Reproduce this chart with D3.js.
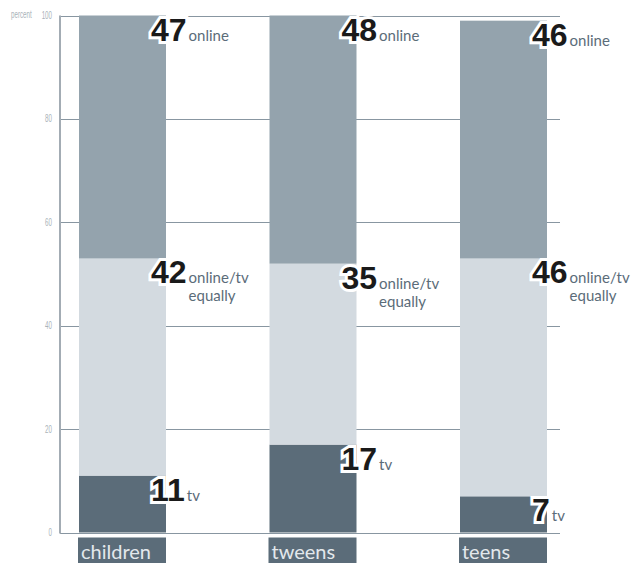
<!DOCTYPE html>
<html>
<head>
<meta charset="utf-8">
<script src="https://cdn.jsdelivr.net/npm/d3@7"></script>
<style>
  html, body { margin: 0; padding: 0; background: #fff; }
  svg { display: block; }
</style>
</head>
<body>
<div id="chart"></div>
<script>
// ---- data ----
const categories = ["children", "tweens", "teens"];
const seriesKeys = ["tv", "equal", "online"];
const tvValues = [11, 17, 7];
const equalValues = [42, 35, 46];
const onlineValues = [47, 48, 46];
const seriesLabels = { tv: ["tv"], equal: ["online/tv", "equally"], online: ["online"] };
const yTicks = [0, 20, 40, 60, 80, 100];
const yAxisTitle = "percent";

const colors = { tv: "#5b6c79", equal: "#d3dae0", online: "#94a3ad" };

const W = 639, H = 563;
const svg = d3.select("#chart").append("svg").attr("width", W).attr("height", H);

const rows = categories.map((c, i) => ({
  category: c, tv: tvValues[i], equal: equalValues[i], online: onlineValues[i]
}));
const stacked = d3.stack().keys(seriesKeys)(rows);

const y = d3.scaleLinear().domain([0, 100]).range([532.5, 15.5]);
const x = d3.scaleBand().domain(categories).range([79, 547]).paddingInner(0.5433).paddingOuter(0);

const axisX = 60, gridEnd = 560;

// gridlines
svg.append("g").selectAll("line").data(yTicks).join("line")
  .attr("x1", axisX).attr("x2", gridEnd)
  .attr("y1", d => Math.round(y(d)) + 0.5).attr("y2", d => Math.round(y(d)) + 0.5)
  .attr("stroke", "#8896a1").attr("stroke-width", 1);

// bars
svg.append("g").selectAll("g").data(stacked).join("g")
  .attr("fill", d => colors[d.key])
  .selectAll("rect").data(d => d).join("rect")
  .attr("x", d => x(d.data.category))
  .attr("width", x.bandwidth())
  .attr("y", d => y(d[1]))
  .attr("height", d => y(d[0]) - y(d[1]));

// y axis line
svg.append("line")
  .attr("x1", axisX).attr("x2", axisX)
  .attr("y1", y(100)).attr("y2", y(0) + 1)
  .attr("stroke", "#a3acb4").attr("stroke-width", 2);

// tick labels (condensed by horizontal scaling)
const tickFont = "'Liberation Sans', Arial, sans-serif";
svg.append("g").selectAll("text").data(yTicks).join("text")
  .attr("transform", d => `translate(52,${y(d)}) scale(0.62,1)`)
  .attr("dy", "0.35em")
  .attr("text-anchor", "end")
  .attr("font-family", tickFont).attr("font-size", 10)
  .attr("fill", "#a9b2b9")
  .text(d => d);
svg.append("text")
  .attr("transform", `translate(11,${y(100) - 1}) scale(0.62,1)`)
  .attr("dy", "0.35em")
  .attr("font-family", tickFont).attr("font-size", 10)
  .attr("fill", "#a9b2b9")
  .text(yAxisTitle);

// category label boxes
const cat = svg.append("g").selectAll("g").data(categories).join("g");
cat.append("rect")
  .attr("x", d => x(d) - 1).attr("width", x.bandwidth() + 1)
  .attr("y", 537.5).attr("height", H - 537.5)
  .attr("fill", "#5b6c79");
cat.append("text")
  .attr("x", d => x(d) + 2).attr("y", 559)
  .attr("font-family", "Lato, 'Open Sans', sans-serif").attr("font-size", 20)
  .attr("fill", "#e3e8ec")
  .text(d => d);

// value labels
const labels = [];
stacked.forEach(s => s.forEach(d => labels.push({ key: s.key, value: d.data[s.key], top: d[1], category: d.data.category })));

const lg = svg.append("g").selectAll("g").data(labels).join("g")
  .attr("transform", d => `translate(${x(d.category) + x.bandwidth() - 15},${y(d.top) + 25})`);

lg.append("text")
  .attr("class", "num")
  .attr("font-family", "'Liberation Sans', Arial, sans-serif")
  .attr("font-weight", "bold").attr("font-size", 32)
  .attr("fill", "#1a1a1a")
  .attr("stroke", "#fff").attr("stroke-width", 6).attr("stroke-linejoin", "miter")
  .attr("paint-order", "stroke")
  .text(d => d.value);

lg.each(function(d) {
  const g = d3.select(this);
  const w = g.select("text.num").node().getComputedTextLength();
  const t = g.append("text")
    .attr("x", w + 2)
    .attr("font-family", "Lato, 'Open Sans', sans-serif").attr("font-size", 15)
    .attr("fill", "#5b6c79");
  seriesLabels[d.key].forEach((line, i) => {
    t.append("tspan").attr("x", w + 2).attr("dy", i === 0 ? 0 : 18).text(line);
  });
});
</script>
</body>
</html>
